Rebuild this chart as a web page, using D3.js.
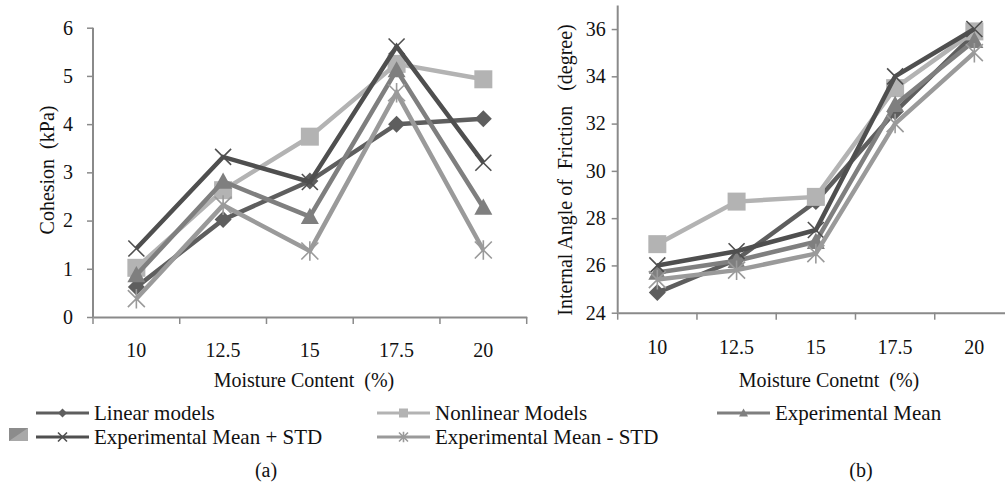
<!DOCTYPE html>
<html><head><meta charset="utf-8">
<script src="https://cdn.jsdelivr.net/npm/d3@7"></script>
</head>
<body style="margin:0;padding:0;background:#fff;overflow:hidden">
<svg id="c" width="1005" height="497"></svg>
<script>
const categories = ["10","12.5","15","17.5","20"];
const seriesNames = ["Linear models","Nonlinear Models","Experimental Mean","Experimental Mean + STD","Experimental Mean - STD"];
// Chart (a) cohesion (kPa)
const cohLinear    = [0.62, 2.02, 2.82, 4.00, 4.11];
const cohNonlinear = [1.02, 2.63, 3.74, 5.25, 4.93];
const cohMean      = [0.87, 2.81, 2.08, 5.12, 2.27];
const cohPlus      = [1.42, 3.32, 2.80, 5.61, 3.20];
const cohMinus     = [0.38, 2.32, 1.37, 4.65, 1.39];
const cohTicks = [0,1,2,3,4,5,6];
// Chart (b) internal angle of friction (degree)
const phiLinear    = [24.85, 26.25, 28.70, 32.50, 35.80];
const phiNonlinear = [26.90, 28.70, 28.90, 33.50, 35.90];
const phiMean      = [25.70, 26.20, 27.00, 32.80, 35.50];
const phiPlus      = [26.00, 26.60, 27.50, 34.00, 36.00];
const phiMinus     = [25.40, 25.80, 26.50, 32.00, 35.00];
const phiTicks = [24,26,28,30,32,34,36];

const colors = ["#5e5e5e","#b3b3b3","#7f7f7f","#4f4f4f","#9a9a9a"];
const markers = ["diamond","square","triangle","times","asterisk"];

const FONT = '"Liberation Serif"';
const FS = "20px";
const svg = d3.select("#c");
const axisColor = "#8a8a8a";

function styleText(sel, fs){ return sel.attr("font-family",null).style("font-family",FONT).style("font-size",fs||FS).attr("fill","#111"); }

function markerPath(type, s){
  const h = s/2;
  const p = d3.path();
  if(type==="diamond"){ p.moveTo(0,-h); p.lineTo(h,0); p.lineTo(0,h); p.lineTo(-h,0); p.closePath(); }
  else if(type==="square"){ p.rect(-h,-h,s,s); }
  else if(type==="triangle"){ p.moveTo(0,-h); p.lineTo(h,h*0.8); p.lineTo(-h,h*0.8); p.closePath(); }
  else if(type==="times"){ p.moveTo(-h,-h); p.lineTo(h,h); p.moveTo(h,-h); p.lineTo(-h,h); }
  else if(type==="asterisk"){ p.moveTo(-h,-h); p.lineTo(h,h); p.moveTo(h,-h); p.lineTo(-h,h); p.moveTo(0,-h*1.15); p.lineTo(0,h*1.15); }
  return p.toString();
}
function drawMarker(g, type, color, s){
  const stroke = (type==="times"||type==="asterisk");
  g.append("path").attr("d", markerPath(type,s))
    .attr("fill", stroke ? "none" : color)
    .attr("stroke", color)
    .attr("stroke-width", stroke ? 1.6 : 0);
}

function chart(opt){
  const x = d3.scaleBand().domain(categories).range([opt.x0, opt.x1]).paddingInner(0).paddingOuter(0);
  const y = d3.scaleLinear().domain(opt.domain).range([opt.yb, opt.yt]);
  const g = svg.append("g");
  const ya = g.append("g").attr("transform",`translate(${opt.x0},0)`)
    .call(d3.axisLeft(y).tickValues(opt.ticks).tickFormat(d3.format("d")).tickSize(6).tickSizeOuter(0).tickPadding(opt.ypad));
  ya.attr("font-family",null).attr("font-size",null);
  ya.select(".domain").attr("stroke",axisColor).attr("stroke-width",2).attr("d",`M0,${opt.yb}V${y(opt.domain[1])}`);
  ya.selectAll(".tick line").attr("stroke",axisColor).attr("stroke-width",1.5);
  styleText(ya.selectAll(".tick text"));
  const xa = g.append("g").attr("transform",`translate(0,${opt.yb})`)
    .call(d3.axisBottom(x).tickSize(0).tickSizeOuter(0).tickPadding(opt.xpad));
  xa.attr("font-family",null).attr("font-size",null);
  xa.select(".domain").attr("stroke",axisColor).attr("stroke-width",2);
  styleText(xa.selectAll(".tick text"));
  const bounds = categories.map(c=>x(c)).concat([opt.x1]);
  xa.selectAll(".bt").data(bounds).join("line").attr("class","bt")
    .attr("x1",d=>d).attr("x2",d=>d).attr("y1",0).attr("y2",7)
    .attr("stroke",axisColor).attr("stroke-width",1.5);
  styleText(g.append("text").attr("x",opt.xtx).attr("y",opt.xty).attr("text-anchor","middle")
    .attr("xml:space","preserve").text(opt.xtitle));
  styleText(g.append("text").attr("transform",`translate(${opt.ytx},${opt.yty}) rotate(-90)`).attr("text-anchor","middle")
    .attr("xml:space","preserve").text(opt.ytitle));
  const line = d3.line().x((d,i)=>x(categories[i])+x.bandwidth()/2).y(d=>y(d));
  opt.series.forEach((vals,si)=>{
    const sg = g.append("g");
    sg.append("path").datum(vals).attr("d",line).attr("fill","none")
      .attr("stroke",colors[si]).attr("stroke-width",4.5).attr("stroke-linejoin","miter");
    vals.forEach((v,i)=>{
      const mg = sg.append("g").attr("transform",`translate(${x(categories[i])+x.bandwidth()/2},${y(v)})`);
      const sz = {diamond:17,square:18,triangle:18,times:16,asterisk:17}[markers[si]];
      drawMarker(mg, markers[si], colors[si], sz);
    });
  });
}

chart({x0:93, x1:526.7, yb:317, yt:27.7, domain:[0,6], ticks:cohTicks, ypad:14, xpad:26,
  xtitle:"Moisture Content  (%)", xtx:304, xty:387, ytitle:"Cohesion  (kPa)", ytx:54, yty:170,
  series:[cohLinear,cohNonlinear,cohMean,cohPlus,cohMinus]});
chart({x0:617.7, x1:1014, yb:312.7, yt:5.4, domain:[24,37], ticks:phiTicks, ypad:6, xpad:27,
  xtitle:"Moisture Conetnt  (%)", xtx:829, xty:387, ytitle:"Internal Angle of  Friction   (degree)", ytx:572, yty:170,
  series:[phiLinear,phiNonlinear,phiMean,phiPlus,phiMinus]});

const legendPos = [[36,413],[377,413],[717,413],[36,437],[377,437]];
seriesNames.forEach((n,i)=>{
  const [lx,ly] = legendPos[i];
  const lg = svg.append("g");
  lg.append("line").attr("x1",lx).attr("x2",lx+53).attr("y1",ly).attr("y2",ly)
    .attr("stroke",colors[i]).attr("stroke-width",3);
  const mg = lg.append("g").attr("transform",`translate(${lx+26.5},${ly})`);
  drawMarker(mg, markers[i], colors[i], 9);
  styleText(lg.append("text").attr("x",lx+58).attr("y",ly).attr("dy","0.35em").text(n), "21px");
});
svg.append("rect").attr("x",9).attr("y",428).attr("width",19).attr("height",13).attr("fill","#8c8c8c");
svg.append("path").attr("d","M9,441L28,428L28,441Z").attr("fill","#a8a8a8");

styleText(svg.append("text").attr("x",266).attr("y",470).attr("dy","0.35em").attr("text-anchor","middle").text("(a)"));
styleText(svg.append("text").attr("x",861).attr("y",470).attr("dy","0.35em").attr("text-anchor","middle").text("(b)"));
</script>
</body></html>
